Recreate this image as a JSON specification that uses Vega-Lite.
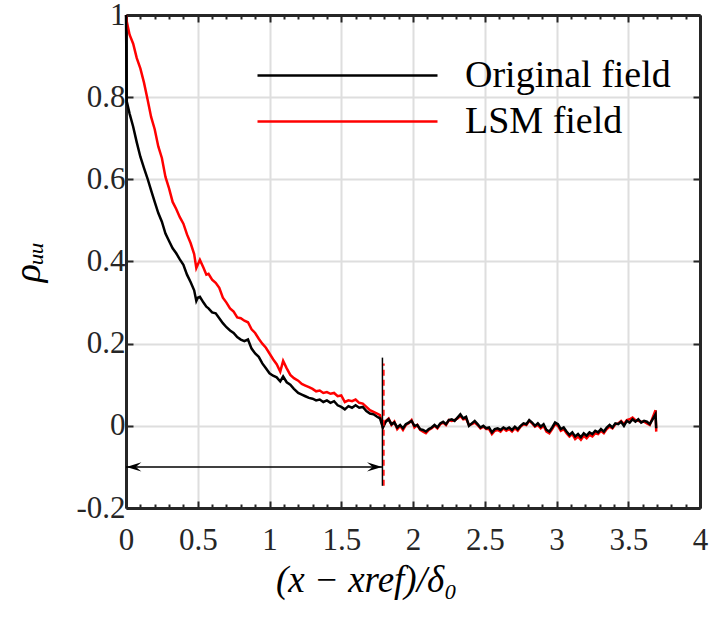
{
  "$schema": "https://vega.github.io/schema/vega-lite/v6.json",
  "autosize": "none",
  "width": 574,
  "height": 493,
  "padding": {"left": 126, "top": 15, "right": 10, "bottom": 116},
  "background": "white",
  "config": {
    "font": "Liberation Serif",
    "view": {"stroke": null},
    "legend": {
      "orient": "none",
      "legendX": 274,
      "legendY": 41,
      "symbolType": "M-9,0H1",
      "symbolSize": 1296,
      "symbolStrokeWidth": 2.5,
      "labelFontSize": 38,
      "labelFont": "Liberation Serif",
      "labelColor": "#000000",
      "labelOffset": 26,
      "labelLimit": 500,
      "rowPadding": 7,
      "padding": 0,
      "title": null
    }
  },
  "datasets": {
    "curves": [
      {"x":0,"o":1.0,"l":1.0},
      {"x":0.005,"o":0.79,"l":0.985},
      {"x":0.025,"o":0.76,"l":0.952},
      {"x":0.05,"o":0.728,"l":0.93},
      {"x":0.075,"o":0.69,"l":0.895},
      {"x":0.1,"o":0.655,"l":0.87},
      {"x":0.125,"o":0.628,"l":0.836},
      {"x":0.15,"o":0.602,"l":0.795},
      {"x":0.175,"o":0.573,"l":0.752},
      {"x":0.2,"o":0.545,"l":0.722},
      {"x":0.225,"o":0.518,"l":0.68},
      {"x":0.25,"o":0.497,"l":0.652},
      {"x":0.275,"o":0.468,"l":0.606},
      {"x":0.3,"o":0.45,"l":0.578},
      {"x":0.325,"o":0.432,"l":0.545},
      {"x":0.35,"o":0.42,"l":0.528},
      {"x":0.375,"o":0.405,"l":0.508},
      {"x":0.4,"o":0.392,"l":0.492},
      {"x":0.425,"o":0.368,"l":0.466},
      {"x":0.45,"o":0.35,"l":0.445},
      {"x":0.475,"o":0.33,"l":0.418},
      {"x":0.49,"o":0.304,"l":0.384},
      {"x":0.5,"o":0.312,"l":0.392},
      {"x":0.515,"o":0.314,"l":0.404},
      {"x":0.54,"o":0.3,"l":0.385},
      {"x":0.56,"o":0.29,"l":0.368},
      {"x":0.575,"o":0.286,"l":0.37},
      {"x":0.6,"o":0.276,"l":0.356},
      {"x":0.625,"o":0.274,"l":0.348},
      {"x":0.65,"o":0.262,"l":0.336},
      {"x":0.675,"o":0.25,"l":0.312},
      {"x":0.7,"o":0.24,"l":0.3},
      {"x":0.725,"o":0.232,"l":0.286},
      {"x":0.75,"o":0.226,"l":0.278},
      {"x":0.775,"o":0.216,"l":0.264},
      {"x":0.8,"o":0.21,"l":0.262},
      {"x":0.825,"o":0.206,"l":0.256},
      {"x":0.85,"o":0.21,"l":0.252},
      {"x":0.875,"o":0.188,"l":0.235},
      {"x":0.9,"o":0.176,"l":0.226},
      {"x":0.925,"o":0.168,"l":0.212},
      {"x":0.95,"o":0.152,"l":0.2},
      {"x":0.975,"o":0.14,"l":0.19},
      {"x":1.0,"o":0.128,"l":0.176},
      {"x":1.025,"o":0.122,"l":0.162},
      {"x":1.05,"o":0.118,"l":0.15},
      {"x":1.075,"o":0.108,"l":0.132},
      {"x":1.095,"o":0.12,"l":0.158},
      {"x":1.12,"o":0.106,"l":0.14},
      {"x":1.145,"o":0.1,"l":0.124},
      {"x":1.17,"o":0.09,"l":0.116},
      {"x":1.2,"o":0.08,"l":0.11},
      {"x":1.225,"o":0.076,"l":0.102},
      {"x":1.25,"o":0.072,"l":0.098},
      {"x":1.275,"o":0.068,"l":0.094},
      {"x":1.3,"o":0.066,"l":0.09},
      {"x":1.325,"o":0.062,"l":0.084},
      {"x":1.35,"o":0.064,"l":0.086},
      {"x":1.375,"o":0.058,"l":0.08},
      {"x":1.4,"o":0.062,"l":0.082},
      {"x":1.425,"o":0.056,"l":0.078},
      {"x":1.45,"o":0.06,"l":0.08},
      {"x":1.475,"o":0.05,"l":0.072},
      {"x":1.5,"o":0.046,"l":0.074},
      {"x":1.525,"o":0.04,"l":0.058},
      {"x":1.55,"o":0.048,"l":0.062},
      {"x":1.575,"o":0.044,"l":0.06},
      {"x":1.6,"o":0.05,"l":0.064},
      {"x":1.625,"o":0.044,"l":0.056},
      {"x":1.65,"o":0.046,"l":0.054},
      {"x":1.675,"o":0.036,"l":0.046},
      {"x":1.7,"o":0.03,"l":0.038},
      {"x":1.725,"o":0.028,"l":0.034},
      {"x":1.75,"o":0.022,"l":0.03},
      {"x":1.77,"o":0.018,"l":0.026},
      {"x":1.79,"o":-0.004,"l":-0.004},
      {"x":1.81,"o":0.01,"l":0.012},
      {"x":1.83,"o":0.016,"l":0.018},
      {"x":1.85,"o":0.004,"l":0.002},
      {"x":1.87,"o":0.008,"l":0.01},
      {"x":1.89,"o":-0.004,"l":-0.008},
      {"x":1.91,"o":0.002,"l":0.0},
      {"x":1.93,"o":-0.006,"l":-0.01},
      {"x":1.95,"o":0.004,"l":0.002},
      {"x":1.97,"o":0.008,"l":0.006},
      {"x":1.99,"o":0.012,"l":0.014},
      {"x":2.01,"o":0.0,"l":-0.004},
      {"x":2.03,"o":0.002,"l":0.002},
      {"x":2.05,"o":-0.008,"l":-0.01},
      {"x":2.07,"o":-0.01,"l":-0.014},
      {"x":2.09,"o":-0.014,"l":-0.018},
      {"x":2.11,"o":-0.008,"l":-0.01},
      {"x":2.13,"o":-0.004,"l":-0.006},
      {"x":2.15,"o":0.002,"l":0.0},
      {"x":2.17,"o":-0.004,"l":-0.006},
      {"x":2.19,"o":0.006,"l":0.004},
      {"x":2.21,"o":0.01,"l":0.008},
      {"x":2.23,"o":0.004,"l":0.002},
      {"x":2.25,"o":0.014,"l":0.014},
      {"x":2.27,"o":0.016,"l":0.012},
      {"x":2.29,"o":0.012,"l":0.014},
      {"x":2.31,"o":0.02,"l":0.018},
      {"x":2.33,"o":0.028,"l":0.024},
      {"x":2.35,"o":0.018,"l":0.016},
      {"x":2.37,"o":0.022,"l":0.018},
      {"x":2.39,"o":0.0,"l":0.002},
      {"x":2.41,"o":0.006,"l":0.004},
      {"x":2.43,"o":0.012,"l":0.008},
      {"x":2.45,"o":0.004,"l":0.002},
      {"x":2.47,"o":-0.004,"l":-0.006},
      {"x":2.49,"o":0.0,"l":-0.002},
      {"x":2.51,"o":-0.006,"l":-0.008},
      {"x":2.53,"o":-0.004,"l":-0.008},
      {"x":2.55,"o":-0.016,"l":-0.02},
      {"x":2.57,"o":-0.008,"l":-0.012},
      {"x":2.59,"o":-0.006,"l":-0.01},
      {"x":2.61,"o":-0.01,"l":-0.014},
      {"x":2.63,"o":-0.004,"l":-0.006},
      {"x":2.65,"o":-0.008,"l":-0.012},
      {"x":2.67,"o":-0.004,"l":-0.008},
      {"x":2.69,"o":-0.01,"l":-0.014},
      {"x":2.71,"o":-0.002,"l":-0.006},
      {"x":2.73,"o":-0.008,"l":-0.012},
      {"x":2.75,"o":0.0,"l":-0.002},
      {"x":2.77,"o":0.006,"l":0.004},
      {"x":2.79,"o":0.004,"l":0.002},
      {"x":2.81,"o":0.014,"l":0.012},
      {"x":2.83,"o":0.008,"l":0.006},
      {"x":2.85,"o":0.0,"l":-0.002},
      {"x":2.87,"o":0.006,"l":0.002},
      {"x":2.89,"o":-0.002,"l":-0.006},
      {"x":2.91,"o":0.004,"l":0.0},
      {"x":2.93,"o":-0.01,"l":-0.014},
      {"x":2.95,"o":-0.014,"l":-0.018},
      {"x":2.97,"o":-0.004,"l":-0.008},
      {"x":2.99,"o":0.008,"l":0.004},
      {"x":3.01,"o":0.004,"l":0.0},
      {"x":3.03,"o":-0.008,"l":-0.012},
      {"x":3.05,"o":-0.004,"l":-0.008},
      {"x":3.07,"o":-0.014,"l":-0.018},
      {"x":3.09,"o":-0.022,"l":-0.026},
      {"x":3.11,"o":-0.016,"l":-0.02},
      {"x":3.13,"o":-0.026,"l":-0.032},
      {"x":3.15,"o":-0.02,"l":-0.026},
      {"x":3.17,"o":-0.028,"l":-0.034},
      {"x":3.19,"o":-0.018,"l":-0.024},
      {"x":3.21,"o":-0.024,"l":-0.03},
      {"x":3.23,"o":-0.016,"l":-0.022},
      {"x":3.25,"o":-0.02,"l":-0.026},
      {"x":3.27,"o":-0.012,"l":-0.018},
      {"x":3.29,"o":-0.016,"l":-0.02},
      {"x":3.31,"o":-0.008,"l":-0.012},
      {"x":3.33,"o":-0.014,"l":-0.018},
      {"x":3.35,"o":-0.004,"l":-0.008},
      {"x":3.37,"o":0.002,"l":-0.002},
      {"x":3.39,"o":-0.004,"l":-0.006},
      {"x":3.41,"o":0.006,"l":0.004},
      {"x":3.43,"o":0.004,"l":0.006},
      {"x":3.45,"o":0.01,"l":0.012},
      {"x":3.47,"o":0.0,"l":0.004},
      {"x":3.49,"o":0.012,"l":0.014},
      {"x":3.51,"o":0.008,"l":0.016},
      {"x":3.53,"o":0.016,"l":0.02},
      {"x":3.55,"o":0.01,"l":0.014},
      {"x":3.57,"o":0.016,"l":0.012},
      {"x":3.59,"o":0.008,"l":0.01},
      {"x":3.61,"o":0.012,"l":0.01},
      {"x":3.63,"o":0.01,"l":0.006},
      {"x":3.65,"o":0.004,"l":0.002},
      {"x":3.67,"o":0.016,"l":0.02},
      {"x":3.69,"o":0.028,"l":0.038},
      {"x":3.695,"o":-0.006,"l":-0.014}
    ]
  },
  "resolve": {"axis": {"x": "independent", "y": "independent"}},
  "layer": [
    {
      "data": {"name": "curves"},
      "mark": {"type": "line", "strokeWidth": 2.5, "interpolate": "linear"},
      "encoding": {
        "x": {
          "field": "x", "type": "quantitative",
          "scale": {"domain": [0, 4], "nice": false, "zero": false},
          "axis": {
            "orient": "bottom",
            "values": [0,0.1,0.2,0.3,0.4,0.5,0.6,0.7,0.8,0.9,1,1.1,1.2,1.3,1.4,1.5,1.6,1.7,1.8,1.9,2,2.1,2.2,2.3,2.4,2.5,2.6,2.7,2.8,2.9,3,3.1,3.2,3.3,3.4,3.5,3.6,3.7,3.8,3.9,4],
            "labelExpr": "abs(datum.value*2 - round(datum.value*2)) < 0.000001 ? '' + datum.value : ''",
            "tickSize": {"condition": {"test": "abs(datum.value*2 - round(datum.value*2)) < 0.000001", "value": -7}, "value": -4},
            "tickWidth": 2,
            "tickColor": "#262626",
            "domainWidth": 3,
            "domainColor": "#262626",
            "grid": true,
            "gridColor": "#dedede",
            "gridWidth": 2,
            "gridOpacity": {"condition": {"test": "abs(datum.value*2 - round(datum.value*2)) < 0.000001", "value": 1}, "value": 0},
            "labelFont": "Liberation Serif",
            "labelFontSize": 31,
            "labelColor": "#262626",
            "labelPadding": 24,
            "labelFlush": false,
            "labelOverlap": false,
            "title": "(x − xref)/δ₀",
            "titleFont": "Liberation Serif",
            "titleFontSize": 37,
            "titleFontStyle": "italic",
            "titleFontWeight": "normal",
            "titleColor": "#000000",
            "titleX": 240,
            "titleAlign": "center",
            "titlePadding": 4
          }
        },
        "y": {
          "field": "l", "type": "quantitative",
          "scale": {"domain": [-0.2, 1], "nice": false, "zero": false},
          "axis": {
            "orient": "left",
            "values": [-0.2, 0, 0.2, 0.4, 0.6, 0.8, 1],
            "labelExpr": "'' + datum.value",
            "tickSize": -7,
            "tickWidth": 2,
            "tickColor": "#262626",
            "domainWidth": 3,
            "domainColor": "#262626",
            "grid": true,
            "gridColor": "#dedede",
            "gridWidth": 2,
            "labelFont": "Liberation Serif",
            "labelFontSize": 31,
            "labelColor": "#262626",
            "labelPadding": 8,
            "labelFlush": false,
            "labelOverlap": false,
            "title": "ρᵤᵤ",
            "titleFont": "Liberation Serif",
            "titleFontSize": 38,
            "titleFontStyle": "italic",
            "titleFontWeight": "normal",
            "titleColor": "#000000",
            "titlePadding": 28
          }
        },
        "color": {
          "datum": "LSM field",
          "type": "nominal",
          "scale": {"domain": ["Original field", "LSM field"], "range": ["#000000", "#ff0000"]}
        }
      }
    },
    {
      "data": {"name": "curves"},
      "mark": {"type": "line", "strokeWidth": 2.5, "interpolate": "linear"},
      "encoding": {
        "x": {
          "field": "x", "type": "quantitative",
          "scale": {"domain": [0, 4], "nice": false, "zero": false},
          "axis": {
            "orient": "top",
            "values": [0,0.1,0.2,0.3,0.4,0.5,0.6,0.7,0.8,0.9,1,1.1,1.2,1.3,1.4,1.5,1.6,1.7,1.8,1.9,2,2.1,2.2,2.3,2.4,2.5,2.6,2.7,2.8,2.9,3,3.1,3.2,3.3,3.4,3.5,3.6,3.7,3.8,3.9,4],
            "labels": false,
            "tickSize": {"condition": {"test": "abs(datum.value*2 - round(datum.value*2)) < 0.000001", "value": -7}, "value": -4},
            "tickWidth": 2,
            "tickColor": "#262626",
            "domainWidth": 3,
            "domainColor": "#262626",
            "grid": false,
            "title": null
          }
        },
        "y": {
          "field": "o", "type": "quantitative",
          "scale": {"domain": [-0.2, 1], "nice": false, "zero": false},
          "axis": {
            "orient": "right",
            "values": [-0.2, 0, 0.2, 0.4, 0.6, 0.8, 1],
            "labels": false,
            "tickSize": -7,
            "tickWidth": 2,
            "tickColor": "#262626",
            "domainWidth": 3,
            "domainColor": "#262626",
            "grid": false,
            "title": null
          }
        },
        "color": {"datum": "Original field", "type": "nominal"}
      }
    },
    {
      "data": {"values": [{"x": 1.787, "y": -0.146, "y2": 0.166}]},
      "mark": {"type": "rule", "color": "#000000", "strokeWidth": 1.5},
      "encoding": {
        "x": {"field": "x", "type": "quantitative", "axis": null, "scale": {"domain": [0, 4], "nice": false, "zero": false}},
        "y": {"field": "y", "type": "quantitative", "axis": null, "scale": {"domain": [-0.2, 1], "nice": false, "zero": false}},
        "y2": {"field": "y2"}
      }
    },
    {
      "data": {"values": [{"x": 1.797, "y": -0.146, "y2": 0.152}]},
      "mark": {"type": "rule", "color": "#ff0000", "strokeWidth": 1.5, "strokeDash": [6, 4]},
      "encoding": {
        "x": {"field": "x", "type": "quantitative", "axis": null, "scale": {"domain": [0, 4], "nice": false, "zero": false}},
        "y": {"field": "y", "type": "quantitative", "axis": null, "scale": {"domain": [-0.2, 1], "nice": false, "zero": false}},
        "y2": {"field": "y2"}
      }
    },
    {
      "data": {"values": [{"x": 0, "x2": 1.787, "y": -0.1}]},
      "mark": {"type": "rule", "color": "#000000", "strokeWidth": 1.5},
      "encoding": {
        "x": {"field": "x", "type": "quantitative", "axis": null, "scale": {"domain": [0, 4], "nice": false, "zero": false}},
        "x2": {"field": "x2"},
        "y": {"field": "y", "type": "quantitative", "axis": null, "scale": {"domain": [-0.2, 1], "nice": false, "zero": false}}
      }
    },
    {
      "data": {"values": [{"x": 0.003, "y": -0.1, "d": "L"}, {"x": 1.784, "y": -0.1, "d": "R"}]},
      "mark": {"type": "point", "filled": true, "color": "#000000", "strokeWidth": 0, "size": 156, "opacity": 1},
      "encoding": {
        "x": {"field": "x", "type": "quantitative", "axis": null, "scale": {"domain": [0, 4], "nice": false, "zero": false}},
        "y": {"field": "y", "type": "quantitative", "axis": null, "scale": {"domain": [-0.2, 1], "nice": false, "zero": false}},
        "shape": {
          "field": "d", "type": "nominal", "legend": null,
          "scale": {"domain": ["L", "R"], "range": ["M0,0L2.4,-0.75L1.5,0L2.4,0.75Z", "M0,0L-2.4,-0.75L-1.5,0L-2.4,0.75Z"]}
        }
      }
    }
  ]
}
